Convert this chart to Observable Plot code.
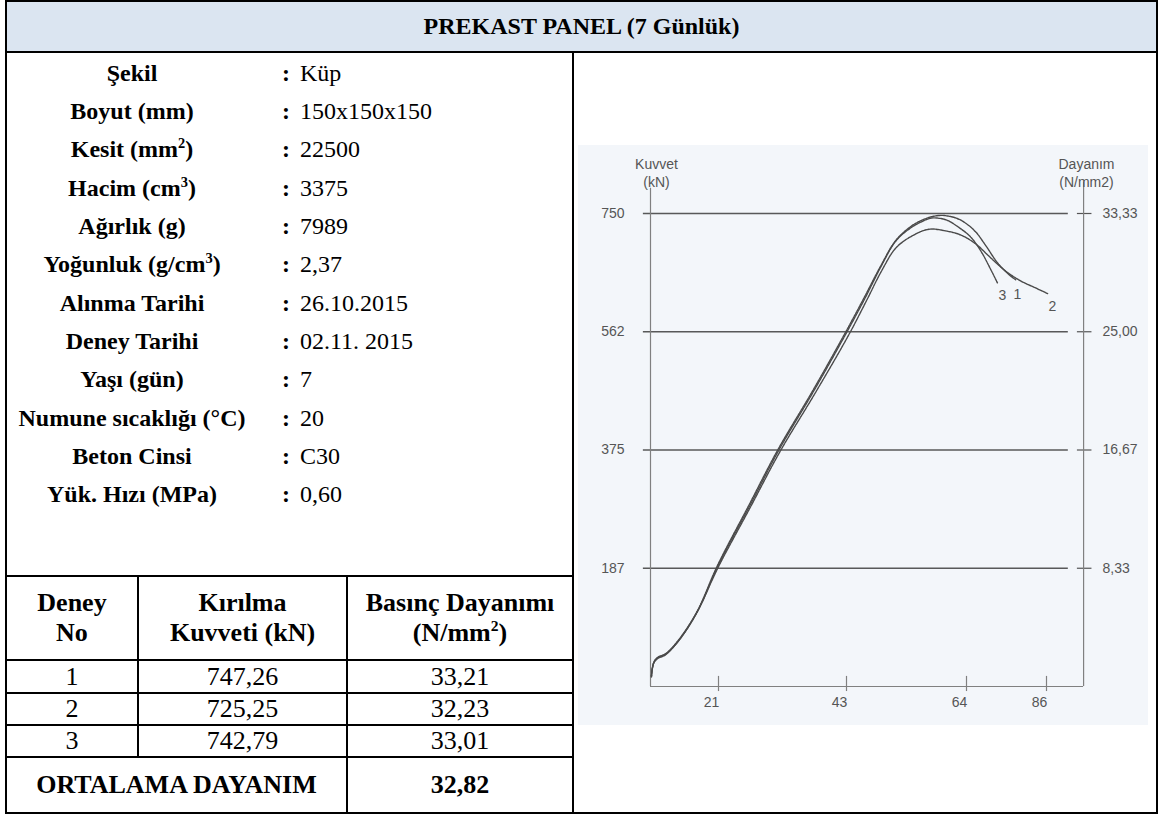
<!DOCTYPE html>
<html><head><meta charset="utf-8">
<script src="https://cdn.jsdelivr.net/npm/d3@7"></script>
<script src="https://cdn.jsdelivr.net/npm/@observablehq/plot@0.6"></script>
<style>
body{margin:0;background:#fff;}
#page{position:relative;width:1161px;height:816px;font-family:"Liberation Serif","Times New Roman",serif;color:#000;overflow:hidden;}
.hl{position:absolute;background:#000;height:2px;}
.vl{position:absolute;background:#000;width:2px;}
.c{position:absolute;display:flex;align-items:center;justify-content:center;white-space:nowrap;text-align:center;}
.c span{line-height:1.14;}
.b{font-weight:bold;}
sup{font-size:0.6em;line-height:0;vertical-align:super;}
#chart{position:absolute;left:578px;top:145px;}
</style></head><body><div id="page"></div>
<script>
// ---------- table data ----------
const title = "PREKAST PANEL (7 Günlük)";
const infoLabels = ["Şekil","Boyut (mm)","Kesit (mm<sup>2</sup>)","Hacim (cm<sup>3</sup>)","Ağırlık (g)","Yoğunluk (g/cm<sup>3</sup>)","Alınma Tarihi","Deney Tarihi","Yaşı (gün)","Numune sıcaklığı (°C)","Beton Cinsi","Yük. Hızı (MPa)"];
const infoValues = ["Küp","150x150x150","22500","3375","7989","2,37","26.10.2015","02.11. 2015","7","20","C30","0,60"];
const tableHeaders = ["Deney<br>No","Kırılma<br>Kuvveti (kN)","Basınç Dayanımı<br>(N/mm<sup>2</sup>)"];
const testNo = ["1","2","3"];
const breakForce = ["747,26","725,25","742,79"];
const strength = ["33,21","32,23","33,01"];
const avgLabel = "ORTALAMA DAYANIM";
const avgValue = "32,82";

// ---------- chart data ----------
const leftTicks = [187.5, 375, 562.5, 750];
const leftTickLabels = ["187","375","562","750"];
const rightTickLabels = ["8,33","16,67","25,00","33,33"];
const xTicks = [21, 43, 64, 86];
const curve1 = [[0.3,16],[0.6,29],[1.2,40],[2.5,47],[4.0,50],[5.6,56],[9.3,78],[14.5,120],[20.7,192],[26.2,287],[31.3,377],[37.2,469],[42.8,561],[46.0,615],[49.0,667],[51.6,707],[54.2,729],[56.9,742],[59.5,747],[62.1,743],[63.8,735],[66.5,721],[69.2,700],[72.5,672],[75.5,654],[77.5,645]];
const curve2 = [[0.3,15],[0.5,27],[1.1,38],[2.4,45],[3.9,48],[5.5,54],[9.2,76],[14.4,118],[20.8,188],[26.4,283],[31.6,373],[37.6,465],[43.3,556],[46.4,610],[49.2,660],[51.6,695],[54.2,713],[57.4,725],[60.3,722.5],[62.95,716],[66.5,702],[70.6,680],[74.7,659],[78.9,643],[83.0,632],[86.3,623]];
const curve3 = [[0.3,17],[0.6,30],[1.3,41],[2.6,47],[4.2,50],[5.8,56],[9.5,78],[14.7,121],[20.9,192],[26.4,287],[31.5,377],[37.4,469],[43.0,561],[46.2,615],[49.1,667],[51.6,706],[54.2,727],[56.9,740],[58.1,743],[60.4,740],[62.5,729],[65.1,713],[67.9,691],[70.6,662],[72.5,640]];
const curveNames = ["1","2","3"];
const curveLabelT = [78.0, 87.6, 73.9];
const curveLabelKn = [621, 602, 620];

// ---------- build table ----------
const page = document.getElementById("page");
function el(cls, css, html){const d=document.createElement("div");d.className=cls;Object.assign(d.style,css);if(html!==undefined)d.innerHTML="<span>"+html+"</span>";page.appendChild(d);return d;}
el("", {position:"absolute",left:"6px",top:"1px",width:"1151px",height:"51px",background:"#dbe5f1"});
el("c b", {left:"6px",top:"1px",width:"1151px",height:"51px",fontSize:"24px"}, title);
infoLabels.forEach((lab,i)=>{
  const cy = 73.5 + 38.3*i;
  el("c b", {left:"6px",top:(cy-19)+"px",width:"252px",height:"38px",fontSize:"24px"}, lab);
  el("c b", {left:"276px",top:(cy-19)+"px",width:"20px",height:"38px",fontSize:"24px"}, ":");
  el("c", {left:"300px",top:(cy-19)+"px",height:"38px",fontSize:"24px",justifyContent:"flex-start"}, infoValues[i]);
});
const colX = [6,138,347,573];
tableHeaders.forEach((h,j)=>{
  el("c b",{left:colX[j]+"px",top:"576px",width:(colX[j+1]-colX[j])+"px",height:"84px",fontSize:"26px"},h);
});
const rowY = [660,693,725,757];
testNo.forEach((n,i)=>{
  [n, breakForce[i], strength[i]].forEach((v,j)=>{
    el("c",{left:colX[j]+"px",top:rowY[i]+"px",width:(colX[j+1]-colX[j])+"px",height:(rowY[i+1]-rowY[i])+"px",fontSize:"26px"},v);
  });
});
el("c b",{left:"6px",top:"757px",width:"341px",height:"56px",fontSize:"26px"},avgLabel);
el("c b",{left:"347px",top:"757px",width:"226px",height:"56px",fontSize:"26px"},avgValue);
el("hl",{left:"5px",top:"0px",width:"1153px"});
el("hl",{left:"5px",top:"812px",width:"1153px"});
el("vl",{left:"5px",top:"0px",height:"814px"});
el("vl",{left:"1156px",top:"0px",height:"814px"});
el("hl",{left:"5px",top:"51px",width:"1153px"});
el("vl",{left:"572px",top:"51px",height:"763px"});
el("hl",{left:"5px",top:"575px",width:"569px"});
[659,692,724,756].forEach(y=>el("hl",{left:"5px",top:y+"px",width:"569px"}));
el("vl",{left:"137px",top:"575px",height:"183px"});
el("vl",{left:"346px",top:"575px",height:"239px"});

// ---------- chart ----------
const rows = [];
[curve1, curve2, curve3].forEach((c,k)=>c.forEach(([t,kn])=>rows.push({id:curveNames[k], t, kn})));
const labelRows = curveNames.map((n,i)=>({n, t:curveLabelT[i], kn:curveLabelKn[i]}));
// the printed time axis is not evenly spaced: piecewise mapping of its ticks
const xWarp = d3.scaleLinear().domain([0,21,43,64,86]).range([0,68,196,316,396]);
const W = 570, H = 580;
const chart = Plot.plot({
  width: W, height: H,
  marginLeft: 72, marginRight: 65, marginTop: 0, marginBottom: 39,
  style: {background:"#f3f6fa", fontFamily:"'Liberation Sans', Arial, sans-serif", fontSize:"14px", color:"#555"},
  x: {transform: xWarp, domain:[0,433], axis:null},
  y: {domain:[0,750], range:[541,68], axis:null},
  marks: [
    Plot.ruleY(leftTicks, {x1:-2.2, x2:92, stroke:"#3c3c3c", strokeWidth:1.3, strokeOpacity:0.85}),
    Plot.ruleY(leftTicks, {x1:94.5, x2:98.5, stroke:"#555", strokeWidth:1.2}),
    Plot.ruleX([0], {y1:0, y2:790, stroke:"#808080", strokeWidth:1.2}),
    Plot.ruleX([96.2], {y1:0, y2:800, stroke:"#808080", strokeWidth:1.2}),
    Plot.ruleY([0], {x1:0, x2:96.2, stroke:"#808080", strokeWidth:1.2}),
    Plot.ruleX(xTicks, {y1:-8, y2:16, stroke:"#808080", strokeWidth:1.2}),
    Plot.text(xTicks, {x:d=>d, y:0, text:d=>String(d), dx:-7, dy:16, fill:"#555", fontSize:14}),
    Plot.axisY({anchor:"left", ticks:leftTicks, tickSize:0, tickPadding:26, tickFormat:d=>leftTickLabels[leftTicks.indexOf(d)], fill:"#555", fontSize:14, label:null}),
    Plot.axisY({anchor:"right", ticks:leftTicks, tickSize:0, tickPadding:19, tickFormat:d=>rightTickLabels[leftTicks.indexOf(d)], fill:"#555", fontSize:14, label:null}),
    Plot.text(["Kuvvet\n(kN)"], {frameAnchor:"top-left", dx:6, dy:27, textAnchor:"middle", lineAnchor:"middle", lineHeight:1.28, fill:"#555", fontSize:14}),
    Plot.text(["Dayanım\n(N/mm2)"], {frameAnchor:"top-right", dx:3, dy:27, textAnchor:"middle", lineAnchor:"middle", lineHeight:1.28, fill:"#555", fontSize:14}),
    Plot.line(rows, {x:"t", y:"kn", z:"id", stroke:"#4a4a4a", strokeWidth:1.4, curve:"catmull-rom", strokeDasharray:"2.2,0.8"}),
    Plot.text(labelRows, {x:"t", y:"kn", text:"n", fill:"#555", fontSize:14})
  ]
});
chart.id = "chart";
page.appendChild(chart);
</script></body></html>
